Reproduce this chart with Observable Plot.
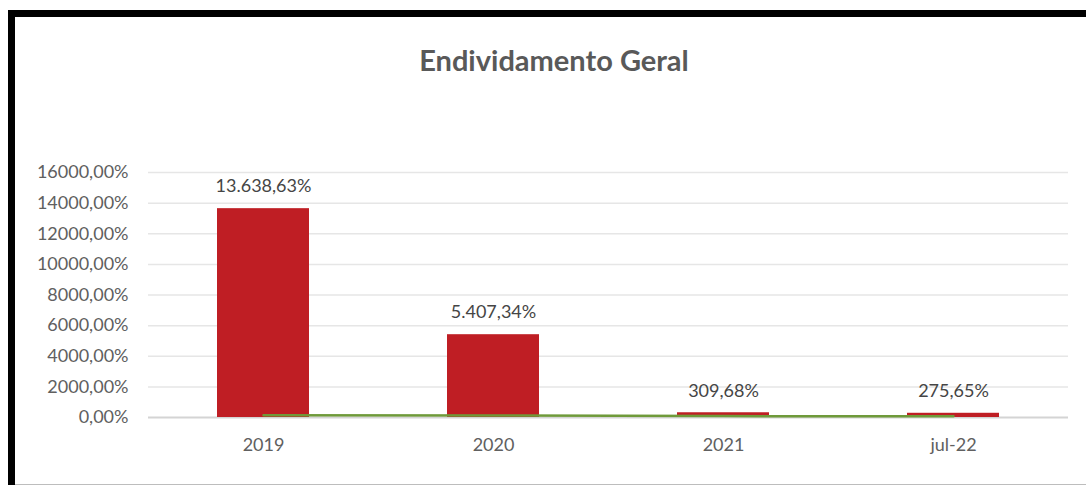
<!DOCTYPE html>
<html>
<head>
<meta charset="utf-8">
<script src="https://cdn.jsdelivr.net/npm/d3@7"></script>
<script src="https://cdn.jsdelivr.net/npm/@observablehq/plot@0.6"></script>
<style>
  html, body { margin: 0; padding: 0; background: #fff; width: 1086px; height: 485px; overflow: hidden; }
  #frame { position: absolute; left: 8px; top: 10px; width: 1078px; height: 475px; box-sizing: border-box;
           border-left: 7px solid #000; border-top: 7px solid #000; }
  #bottomline { position: absolute; left: 15px; top: 484px; width: 1071px; height: 1px; background: #bdbdbd; }
  #title { position: absolute; left: 0; top: 41px; width: 1108px; text-align: center;
           font-family: Lato, "Open Sans", sans-serif; font-weight: bold; font-size: 29px; color: #595959; line-height: 38px; }
  #chart { position: absolute; left: 15px; top: 140px; }
</style>
</head>
<body>
<div id="frame"></div>
<div id="bottomline"></div>
<div id="title">Endividamento Geral</div>
<div id="chart"></div>
<script>
const categories = ["2019", "2020", "2021", "jul-22"];
const endividamento = [13638.63, 5407.34, 309.68, 275.65];
const valueLabels = ["13.638,63%", "5.407,34%", "309,68%", "275,65%"];
const linha = [140, 130, 90, 80];
const yTicks = [0, 2000, 4000, 6000, 8000, 10000, 12000, 14000, 16000];
const yTickLabels = ["0,00%", "2000,00%", "4000,00%", "6000,00%", "8000,00%", "10000,00%", "12000,00%", "14000,00%", "16000,00%"];

const data = categories.map((c, i) => ({cat: c, v: endividamento[i], label: valueLabels[i], l: linha[i]}));

const plot = Plot.plot({
  width: 1071,
  height: 344,
  marginLeft: 133,
  marginRight: 18,
  marginTop: 32,
  marginBottom: 67,
  style: {fontFamily: "Lato, 'Open Sans', sans-serif", fontSize: "18px", color: "#606060", background: "transparent"},
  x: {domain: categories, paddingInner: 0.6, paddingOuter: 0.3, label: null, tickSize: 0, tickPadding: 21},
  y: {domain: [0, 16000], label: null, ticks: yTicks, tickSize: 0, tickPadding: 20,
      tickFormat: d => yTickLabels[yTicks.indexOf(d)]},
  marks: [
    Plot.gridY(yTicks.filter(t => t > 0), {stroke: "#e6e6e6", strokeOpacity: 1, strokeWidth: 1.5}),
    Plot.ruleY([0], {stroke: "#d4d4d4", strokeWidth: 2}),
    Plot.barY(data, {x: "cat", y: "v", fill: "#bf1e24"}),
    Plot.line(data, {x: "cat", y: "l", stroke: "#6f9a3a", strokeWidth: 2.5}),
    Plot.text(data, {x: "cat", y: "v", text: "label", dy: -22, fill: "#454545", fontSize: 18, lineAnchor: "middle"})
  ]
});
document.getElementById("chart").appendChild(plot);
</script>
</body>
</html>
